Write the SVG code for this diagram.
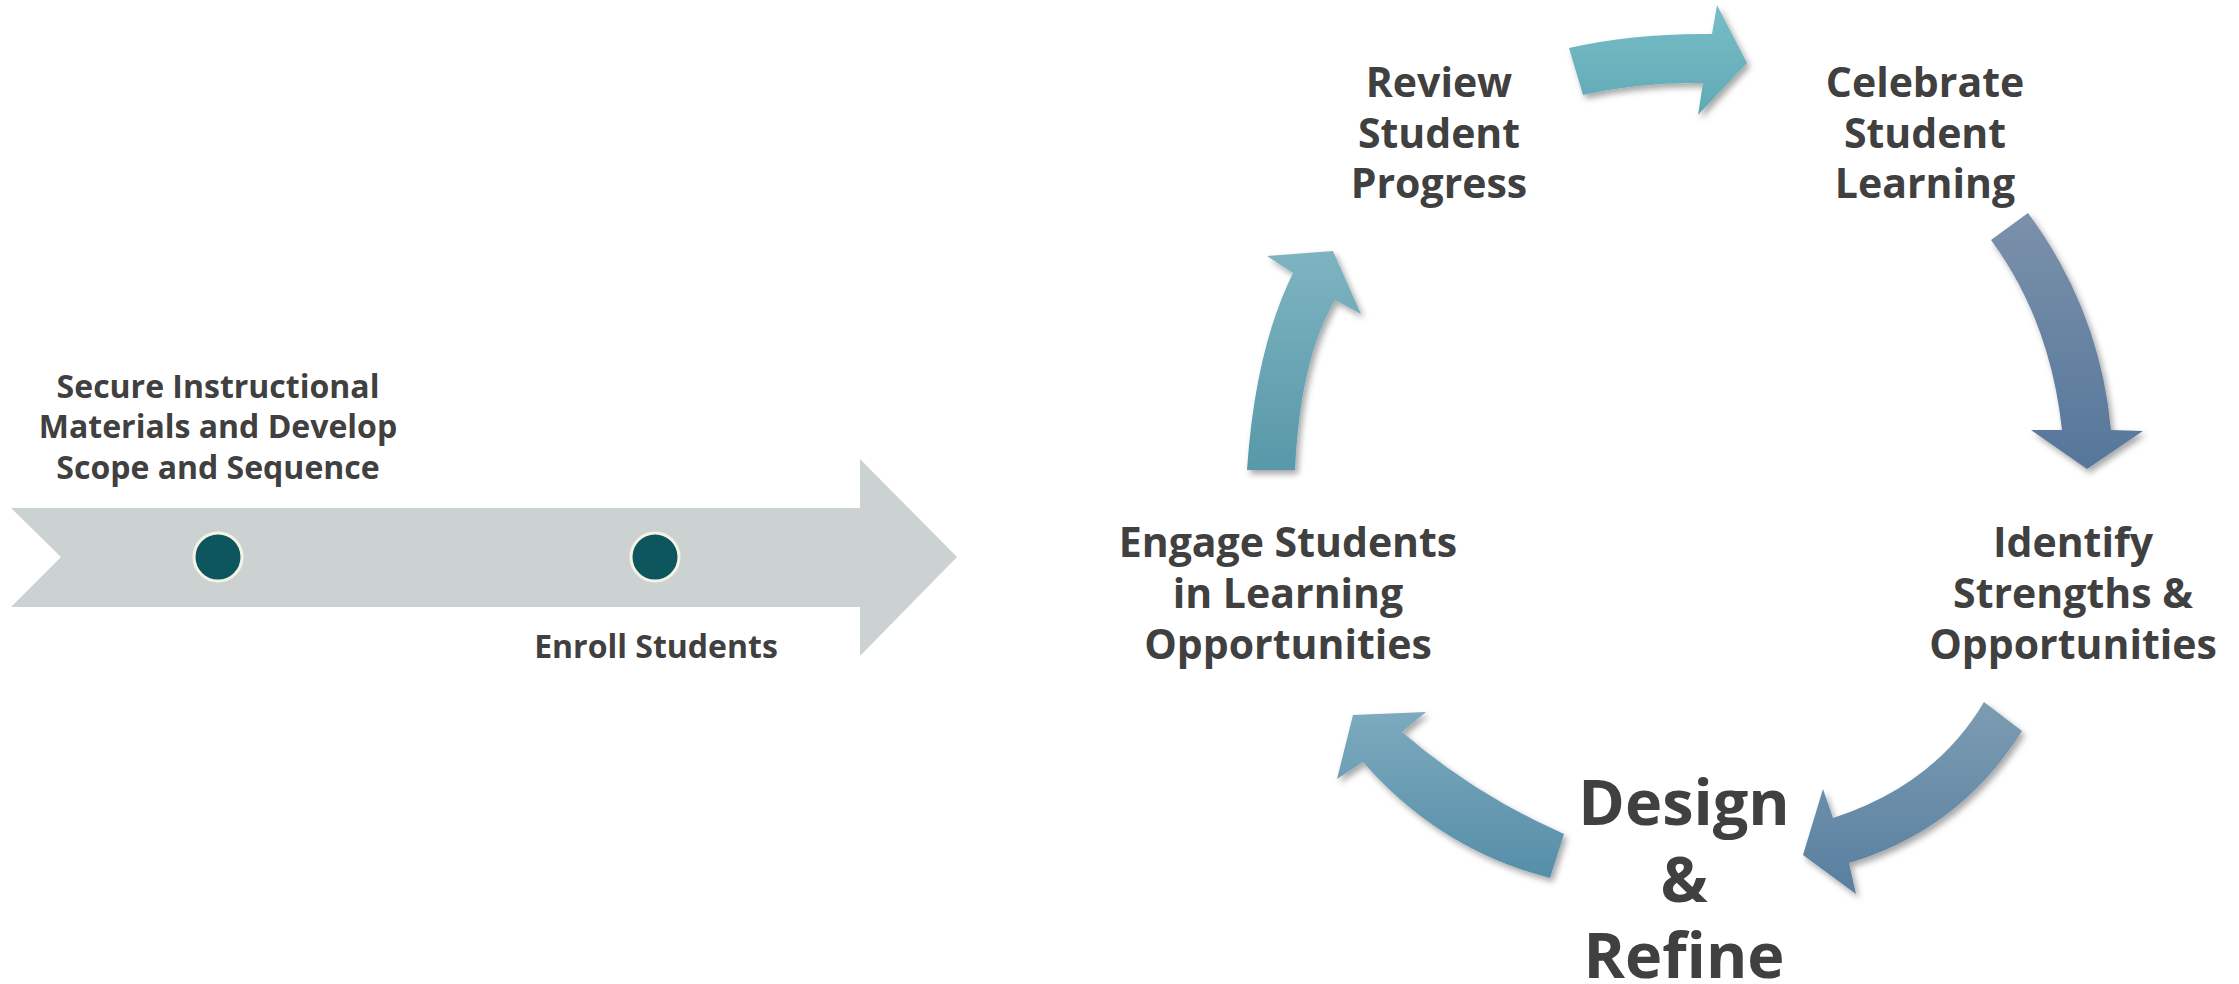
<svg xmlns="http://www.w3.org/2000/svg" width="2239" height="984" viewBox="0 0 2239 984">
  <style>
    .lbl { font-family: "Open Sans", "Noto Sans", "Liberation Sans", sans-serif; font-weight: 700; fill: #404040; text-anchor: middle; }
    .sm { font-size: 32px; }
    .md { font-size: 41px; }
    .lg { font-size: 63px; }
    .dot { fill: #0e565e; stroke: #f5f3e6; stroke-width: 3; }
    .cyc { filter: url(#shadow); }
  </style>
  <defs>
    <filter id="shadow" x="-20%" y="-20%" width="140%" height="140%">
      <feDropShadow dx="3" dy="4" stdDeviation="3" flood-color="#000" flood-opacity="0.35"/>
    </filter>
    <linearGradient id="gTop" x1="0" y1="0" x2="0" y2="1">
      <stop offset="0" stop-color="#78bdc7"/>
      <stop offset="1" stop-color="#60a9b5"/>
    </linearGradient>
    <linearGradient id="gRight" x1="0" y1="0" x2="0" y2="1">
      <stop offset="0" stop-color="#7a91aa"/>
      <stop offset="1" stop-color="#56769a"/>
    </linearGradient>
    <linearGradient id="gLeft" x1="0" y1="0" x2="0" y2="1">
      <stop offset="0" stop-color="#7eb4c1"/>
      <stop offset="1" stop-color="#5898a9"/>
    </linearGradient>
    <linearGradient id="gBR" x1="0" y1="0" x2="0" y2="1">
      <stop offset="0" stop-color="#7c9cb2"/>
      <stop offset="1" stop-color="#587fa0"/>
    </linearGradient>
    <linearGradient id="gBL" x1="0" y1="0" x2="0" y2="1">
      <stop offset="0" stop-color="#7caabe"/>
      <stop offset="1" stop-color="#568ea8"/>
    </linearGradient>
  </defs>

  <rect width="2239" height="984" fill="#ffffff"/>

  <!-- timeline -->
  <g id="timeline">
    <path d="M11,508 L860,508 L860,459 L957,557 L860,656 L860,607 L11,607 L61,557 Z" fill="#ccd2d2"/>
  </g>
  <g id="node-secure">
    <circle class="dot" cx="218" cy="557" r="24"/>
    <text class="lbl sm" x="218" y="398">Secure Instructional</text>
    <text class="lbl sm" x="218" y="438">Materials and Develop</text>
    <text class="lbl sm" x="218" y="479">Scope and Sequence</text>
  </g>
  <g id="node-enroll">
    <circle class="dot" cx="655" cy="557" r="24"/>
    <text class="lbl sm" x="656" y="658">Enroll Students</text>
  </g>

  <!-- cycle connectors -->
  <g id="connectors">
    <path class="cyc" fill="url(#gTop)" d="M1569,48 Q1635,33 1712,34 L1717,5 L1747,63 L1698,115 L1703,83 Q1640,82 1583,95 Z"/>
    <path class="cyc" fill="url(#gRight)" d="M2028,213 Q2100,310 2111,430 L2143,431 L2087,469 L2031,430 L2062,430 Q2050,320 1991,240 Z"/>
    <path class="cyc" fill="url(#gBR)" d="M1984,702 L2022,731 Q1960,830 1849,863 L1856,894 L1803,855 L1823,789 L1833,818 Q1935,785 1984,702 Z"/>
    <path class="cyc" fill="url(#gBL)" d="M1564,834 L1550,878 Q1440,850 1363,762 L1337,779 L1353,715 L1426,712 L1402,732 Q1475,795 1564,834 Z"/>
    <path class="cyc" fill="url(#gLeft)" d="M1247,470 L1295,470 Q1300,360 1335,300 L1361,314 L1333,251 L1267,256 L1293,273 Q1255,350 1247,470 Z"/>
  </g>

  <!-- cycle nodes -->
  <g id="node-review">
    <text class="lbl md" x="1439" y="97">Review</text>
    <text class="lbl md" x="1439" y="148">Student</text>
    <text class="lbl md" x="1439" y="198">Progress</text>
  </g>
  <g id="node-celebrate">
    <text class="lbl md" x="1925" y="97">Celebrate</text>
    <text class="lbl md" x="1925" y="148">Student</text>
    <text class="lbl md" x="1925" y="198">Learning</text>
  </g>
  <g id="node-identify">
    <text class="lbl md" x="2073" y="557">Identify</text>
    <text class="lbl md" x="2073" y="608">Strengths &amp;</text>
    <text class="lbl md" x="2073" y="659">Opportunities</text>
  </g>
  <g id="node-design">
    <text class="lbl lg" x="1684" y="825">Design</text>
    <text class="lbl lg" x="1684" y="902">&amp;</text>
    <text class="lbl lg" x="1684" y="978">Refine</text>
  </g>
  <g id="node-engage">
    <text class="lbl md" x="1288" y="557">Engage Students</text>
    <text class="lbl md" x="1288" y="608">in Learning</text>
    <text class="lbl md" x="1288" y="659">Opportunities</text>
  </g>
</svg>
